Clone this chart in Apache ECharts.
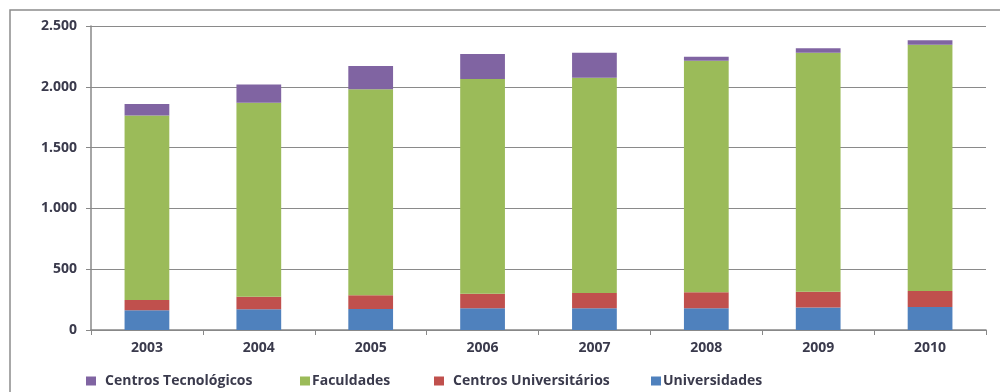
<!DOCTYPE html>
<html>
<head>
<meta charset="utf-8">
<script src="https://cdn.jsdelivr.net/npm/echarts@6/dist/echarts.min.js"></script>
<style>
  html, body { margin: 0; padding: 0; background: #fff; }
  #chart { width: 1000px; height: 392px; }
</style>
</head>
<body>
<div id="chart"></div>
<script>
// Instituições de ensino superior por tipo, 2003–2010
const years = ['2003', '2004', '2005', '2006', '2007', '2008', '2009', '2010'];
const universidades = [163, 170, 173, 178, 178, 178, 186, 190];
const centrosUniversitarios = [84, 104, 112, 121, 126, 132, 129, 131];
const faculdades = [1518, 1595, 1694, 1765, 1771, 1905, 1966, 2025];
const centrosTecnologicos = [93, 149, 192, 206, 206, 33, 35, 36];
const yTicks = [0, 500, 1000, 1500, 2000, 2500];

const seriesNames = ['Universidades', 'Centros Universitários', 'Faculdades', 'Centros Tecnológicos'];
const seriesColors = ['#4F81BD', '#C0504D', '#9BBB59', '#8064A2'];
const seriesData = [universidades, centrosUniversitarios, faculdades, centrosTecnologicos];

const fontFamily = '"Open Sans", "DejaVu Sans", sans-serif';
const textColor = '#3a3a4c';

const chart = echarts.init(document.getElementById('chart'), null, { renderer: 'canvas' });

// legend order: Centros Tecnológicos, Faculdades, Centros Universitários, Universidades
const legendPos = [
  { name: 'Centros Tecnológicos', left: 86, gap: 9 },
  { name: 'Faculdades', left: 300, gap: 2 },
  { name: 'Centros Universitários', left: 434, gap: 9 },
  { name: 'Universidades', left: 651, gap: 2 }
];

const option = {
  animation: false,
  backgroundColor: '#fff',
  grid: { left: 91, right: 14, top: 26, bottom: 62, containLabel: false },
  legend: legendPos.map(l => ({
    data: [l.name],
    left: l.left,
    top: 374,
    itemWidth: 10,
    itemHeight: 9,
    itemGap: 0,
    padding: 0,
    icon: 'rect',
    selectedMode: false,
    textStyle: { fontFamily, fontSize: 14, fontWeight: 'bold', color: textColor, padding: [0, 0, 0, l.gap - 5] }
  })),
  xAxis: {
    type: 'category',
    data: years,
    axisLine: { lineStyle: { color: '#888', width: 1.5 } },
    axisTick: { show: true, length: 5, lineStyle: { color: '#888' } },
    axisLabel: { fontFamily, fontSize: 14, fontWeight: 'bold', color: textColor, margin: 11 }
  },
  yAxis: {
    type: 'value',
    min: yTicks[0],
    max: yTicks[yTicks.length - 1],
    interval: 500,
    axisLine: { show: true, lineStyle: { color: '#888', width: 1.5 } },
    axisTick: { show: true, length: 5, lineStyle: { color: '#888' } },
    splitLine: { lineStyle: { color: '#8a8a8a', width: 1.2 } },
    axisLabel: {
      fontFamily, fontSize: 14, fontWeight: 'bold', color: textColor, margin: 14,
      formatter: v => v.toString().replace(/\B(?=(\d{3})+(?!\d))/g, '.')
    }
  },
  graphic: [{
    type: 'rect',
    shape: { x: 10, y: 10, width: 1010, height: 400 },
    style: { fill: 'none', stroke: '#8c8c8c', lineWidth: 1.5 },
    silent: true,
    z: 100
  }],
  series: seriesNames.map((name, i) => ({
    name,
    type: 'bar',
    stack: 'total',
    barWidth: '40%',
    data: seriesData[i],
    itemStyle: { color: seriesColors[i] }
  }))
};

chart.setOption(option);
</script>
</body>
</html>
